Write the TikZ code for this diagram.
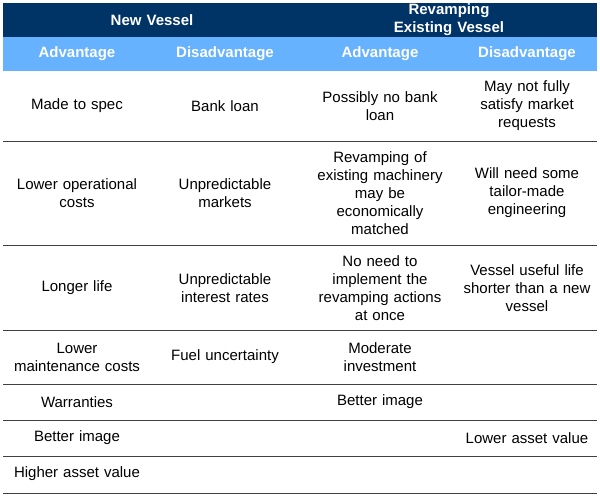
\documentclass[tikz,border=0pt]{standalone}
\usepackage{fontspec}
\setmainfont{Liberation Sans}
\begin{document}
\begin{tikzpicture}[x=1pt, y=-1pt,
cell/.style={align=center, text width=140pt, font=\fontsize{15}{18}\selectfont, inner sep=0pt},
head/.style={cell, font=\fontsize{15}{18}\selectfont\bfseries, text=white}
]
\useasboundingbox (0,0) rectangle (600,498);
%Header bands
\fill[fill={rgb,255:red,0;green,51;blue,102}] (3,3) rectangle (597,37);
\fill[fill={rgb,255:red,102;green,178;blue,255}] (3,37) rectangle (597,71);
%Rules
\foreach \y in {141,245,330,384,420,456,493}
  \draw[black!75, line width=0.8pt] (3,\y) -- (597,\y);
%Headers
\node[head] (nv)  at (152,20) {New Vessel};
\node[head] (rv)  at (449,20) {Revamping Existing Vessel};
\node[head] (nva) at (77,54)  {Advantage};
\node[head] (nvd) at (225,54) {Disadvantage};
\node[head] (rva) at (380,54) {Advantage};
\node[head] (rvd) at (527,54) {Disadvantage};
%Row 1
\node[cell] (a1) at (77,106)  {Made to spec};
\node[cell] (b1) at (225,106) {Bank loan};
\node[cell] (c1) at (380,106) {Possibly no bank\\loan};
\node[cell] (d1) at (527,106) {May not fully\\satisfy market\\requests};
%Row 2
\node[cell] (a2) at (77,193)  {Lower operational\\costs};
\node[cell] (b2) at (225,193) {Unpredictable\\markets};
\node[cell] (c2) at (380,193) {Revamping of\\existing machinery\\may be\\economically\\matched};
\node[cell] (d2) at (527,193) {Will need some\\tailor-made\\engineering};
%Row 3
\node[cell] (a3) at (77,288)  {Longer life};
\node[cell] (b3) at (225,288) {Unpredictable\\interest rates};
\node[cell] (c3) at (380,288) {No need to\\implement the\\revamping actions\\at once};
\node[cell] (d3) at (527,288) {Vessel useful life\\shorter than a new\\vessel};
%Row 4
\node[cell] (a4) at (77,357)  {Lower\\maintenance costs};
\node[cell] (b4) at (225,357) {Fuel uncertainty};
\node[cell] (c4) at (380,357) {Moderate\\investment};
%Rows 5-7
\node[cell] (a5) at (77,402)  {Warranties};
\node[cell] (c5) at (380,402) {Better image};
\node[cell] (a6) at (77,438)  {Better image};
\node[cell] (d6) at (527,438) {Lower asset value};
\node[cell] (a7) at (77,474)  {Higher asset value};
\end{tikzpicture}
\end{document}
